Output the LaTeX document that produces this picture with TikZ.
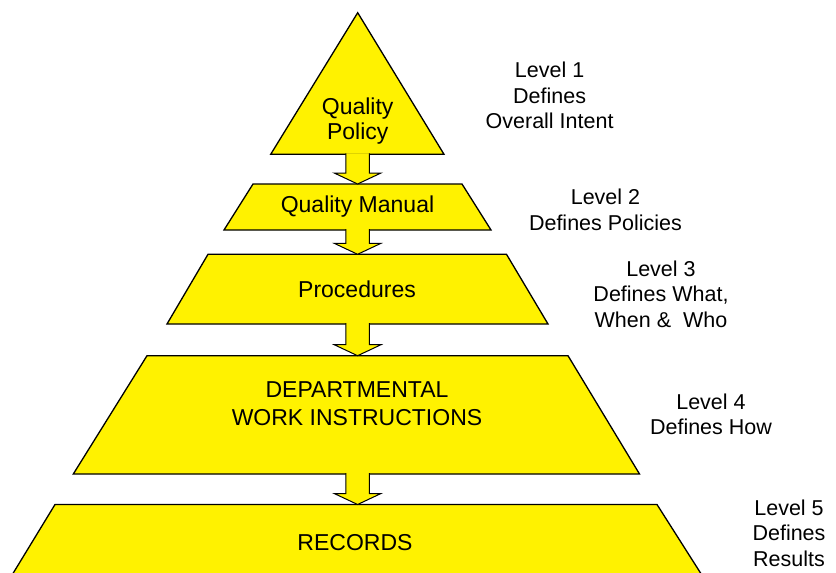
\documentclass[tikz,border=0pt]{standalone}
\usepackage{fontspec}
\setmainfont{Liberation Sans}
\usetikzlibrary{calc}
\newcommand\blockarrow[2]{\draw[blk] let \p1=(#1), \p2=(#2) in
  (\x1-11.8pt,\y1+1pt) -- (\x1-11.8pt,\y2+11pt) -- (\x1-23.4pt,\y2+11pt) -- (\x1,\y2)
  -- (\x1+23.4pt,\y2+11pt) -- (\x1+11.8pt,\y2+11pt) -- (\x1+11.8pt,\y1+1pt);}
\begin{document}
\begin{tikzpicture}[x=1pt,y=-1pt,
  levelshape/.style={fill=yellow,draw=black,line width=1.3pt,line join=miter},
  blk/.style={fill=yellow,draw=black,line width=1pt,line join=miter},
  shapetext/.style={font=\fontsize{23}{26}\selectfont,align=center,inner sep=0pt},
  lbl/.style={font=\fontsize{21.5}{25.5}\selectfont,align=center,inner sep=0pt}]
\useasboundingbox (0,0) rectangle (836,573);
\clip (0,0) rectangle (836,573);
% shapes
\draw[levelshape] (357.7,12.7) -- (444,154.3) -- (270.7,154.3) -- cycle;
\draw[levelshape] (253,184) -- (462,184) -- (491,230) -- (224,230) -- cycle;
\draw[levelshape] (208,254.3) -- (506.5,254.3) -- (548,324) -- (167,324) -- cycle;
\draw[levelshape] (147,355.7) -- (568,355.7) -- (639.5,474) -- (73.3,474) -- cycle;
\draw[levelshape] (55,504.5) -- (657,504.5) -- (705,580) -- (9,580) -- cycle;
% connector end points
\coordinate (qpbot) at (357.6,154.3);
\coordinate (qmtop) at (357.6,184);
\coordinate (qmbot) at (357.6,230);
\coordinate (prtop) at (357.6,254.3);
\coordinate (prbot) at (357.6,324);
\coordinate (dwtop) at (357.6,355.7);
\coordinate (dwbot) at (357.6,474);
\coordinate (rectop) at (357.6,504.5);
\blockarrow{qpbot}{qmtop}
\blockarrow{qmbot}{prtop}
\blockarrow{prbot}{dwtop}
\blockarrow{dwbot}{rectop}
% texts
\node[shapetext,font=\fontsize{23}{25}\selectfont] (qp) at (357.7,121) {Quality\\Policy};
\node[shapetext] (qm) at (357.5,206.5) {Quality Manual};
\node[shapetext] (pr) at (357,289) {Procedures};
\node[shapetext,font=\fontsize{23}{28}\selectfont] (dw) at (357,403.5) {DEPARTMENTAL\\WORK INSTRUCTIONS};
\node[shapetext] (rec) at (355,542.5) {RECORDS};
% level labels
\node[lbl] (l1) at (549.6,95.5) {Level 1\\Defines\\Overall Intent};
\node[lbl] (l2) at (605.5,210) {Level 2\\Defines Policies};
\node[lbl] (l3) at (661,294) {Level 3\\Defines What,\\When \& \ Who};
\node[lbl] (l4) at (711,414.5) {Level 4\\Defines How};
\node[lbl] (l5) at (789,533) {Level 5\\Defines\\Results};
\end{tikzpicture}
\end{document}
